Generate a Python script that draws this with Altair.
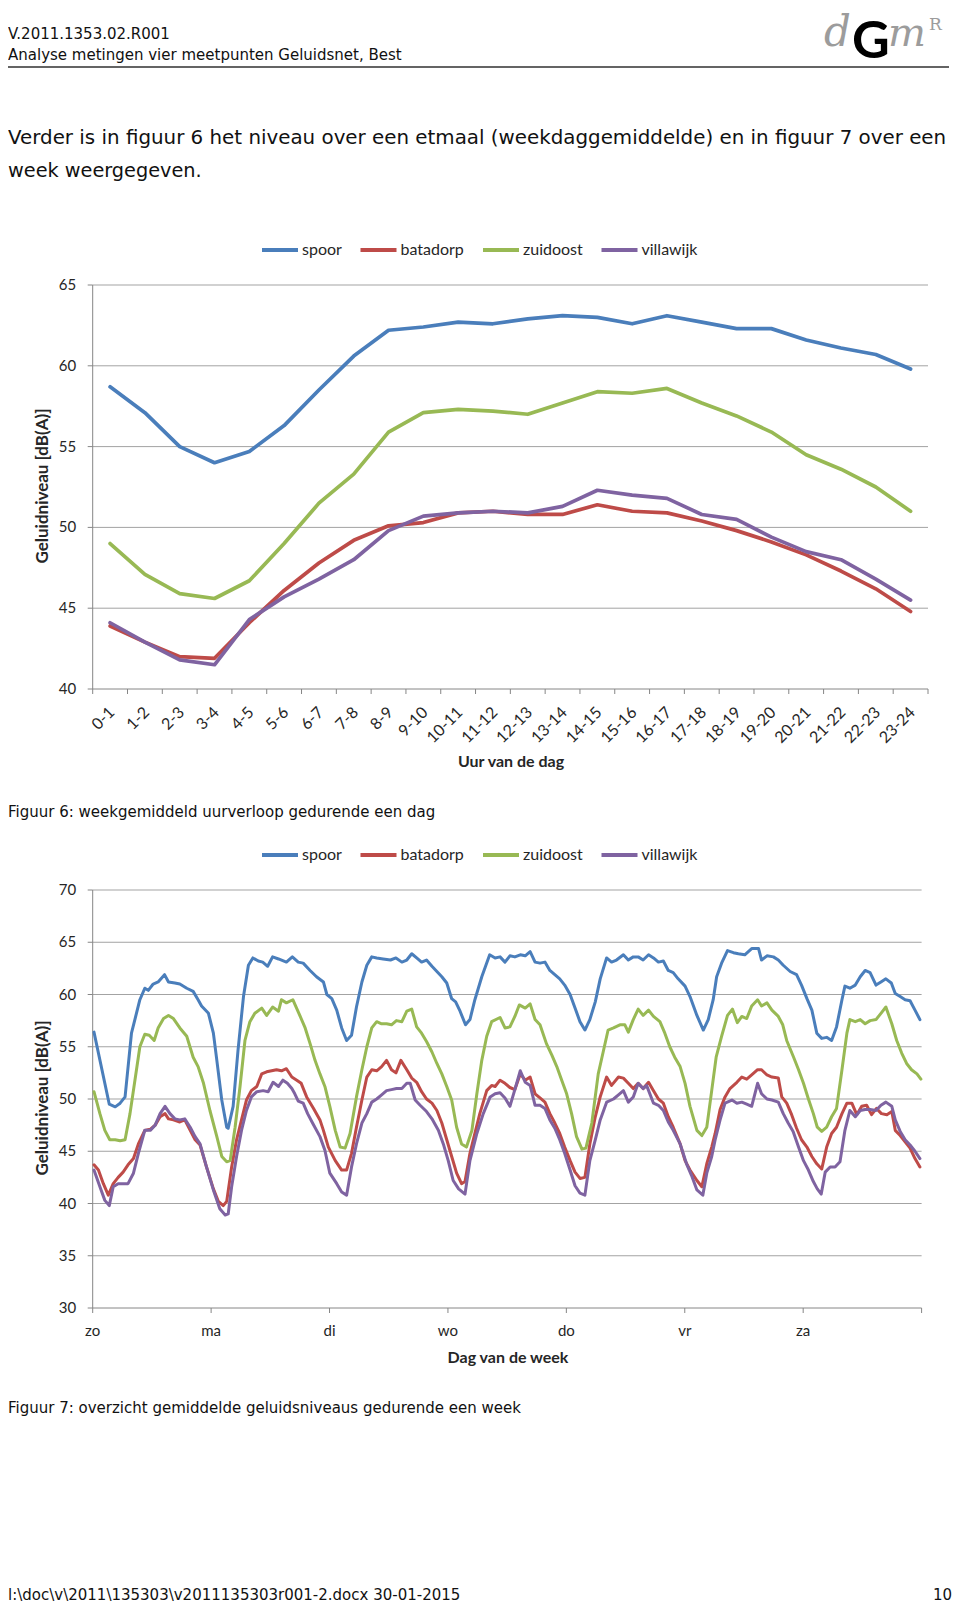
import altair as alt
import pandas as pd

SERIES = ["spoor", "batadorp", "zuidoost", "villawijk"]
COLORS = ["#4a7ebb", "#be4b48", "#98b954", "#7f63a1"]

HOUR_LABELS = ["0-1", "1-2", "2-3", "3-4", "4-5", "5-6", "6-7", "7-8", "8-9", "9-10",
               "10-11", "11-12", "12-13", "13-14", "14-15", "15-16", "16-17", "17-18",
               "18-19", "19-20", "20-21", "21-22", "22-23", "23-24"]
DAY_LABELS = ["zo", "ma", "di", "wo", "do", "vr", "za"]

DAY_TICKS = [40, 45, 50, 55, 60, 65]
DAY_GRID = [45, 50, 55, 60, 65]
WEEK_TICKS = [30, 35, 40, 45, 50, 55, 60, 65, 70]
WEEK_GRID = [35, 40, 45, 50, 55, 60, 65, 70]

# Figuur 6 : weekgemiddeld uurverloop (dB(A)) per uur 0-1 ... 23-24
DAY_SPOOR = [58.7, 57.1, 55.0, 54.0, 54.7, 56.3, 58.5, 60.6, 62.2, 62.4, 62.7, 62.6,
             62.9, 63.1, 63.0, 62.6, 63.1, 62.7, 62.3, 62.3, 61.6, 61.1, 60.7, 59.8]
DAY_BATADORP = [43.9, 42.9, 42.0, 41.9, 44.1, 46.1, 47.8, 49.2, 50.1, 50.3, 50.9, 51.0,
                50.8, 50.8, 51.4, 51.0, 50.9, 50.4, 49.8, 49.1, 48.3, 47.3, 46.2, 44.8]
DAY_ZUIDOOST = [49.0, 47.1, 45.9, 45.6, 46.7, 49.0, 51.5, 53.3, 55.9, 57.1, 57.3, 57.2,
                57.0, 57.7, 58.4, 58.3, 58.6, 57.7, 56.9, 55.9, 54.5, 53.6, 52.5, 51.0]
DAY_VILLAWIJK = [44.1, 42.9, 41.8, 41.5, 44.3, 45.7, 46.8, 48.0, 49.8, 50.7, 50.9, 51.0,
                 50.9, 51.3, 52.3, 52.0, 51.8, 50.8, 50.5, 49.4, 48.5, 48.0, 46.8, 45.5]

# Figuur 7 : [uur sinds zondag 0:00, dB(A)]
WEEK_SPOOR = [[0, 56.4], [3.1, 49.5], [4.3, 49.25], [5.3, 49.6], [6.3, 50.2], [7.6, 56.3], [9.3, 59.5], [10.3, 60.6],
    [11, 60.4], [12, 61.0], [13, 61.2], [14.3, 61.9], [15.1, 61.2], [16.4, 61.1], [17.4, 61.0], [18.8, 60.6],
    [20.1, 60.3], [21.1, 59.5], [21.8, 58.9], [23.2, 58.2], [24.2, 56.3], [24.9, 53.7], [25.9, 49.9], [26.9, 47.3],
    [27.2, 47.2], [28.2, 49.3], [29.2, 54.7], [30.3, 59.8], [31.3, 62.8], [32.2, 63.5], [33.3, 63.2], [34.2, 63.1],
    [35.2, 62.7], [36.2, 63.6], [37.4, 63.4], [39, 63.1], [40.2, 63.6], [41.4, 63.1], [42.4, 63.0], [43.8, 62.3],
    [45.1, 61.7], [46.5, 61.2], [47.2, 60.0], [48.2, 59.6], [49.2, 58.5], [50.2, 56.8], [51.2, 55.6], [52.2, 56.1],
    [53.2, 58.8], [54.3, 61.2], [55.3, 62.8], [56.3, 63.6], [57.3, 63.5], [58.6, 63.4], [60.1, 63.3], [61.2, 63.5],
    [62.4, 63.1], [63.4, 63.3], [64.4, 63.9], [65.4, 63.5], [66.4, 63.1], [67.4, 63.3], [68.5, 62.7], [69.5, 62.2],
    [70.5, 61.7], [71.5, 61.1], [72.5, 59.6], [73.3, 59.3], [74.2, 58.4], [75.3, 57.1], [76.2, 57.6], [77.2, 59.5],
    [78.6, 61.7], [80.2, 63.8], [81.3, 63.5], [82.3, 63.6], [83.3, 63.1], [84.3, 63.7], [85.3, 63.6], [86.4, 63.8],
    [87.4, 63.7], [88.4, 64.1], [89.4, 63.1], [90.4, 63.0], [91.4, 63.1], [92.4, 62.3], [93.4, 61.9], [94.4, 61.5],
    [95.4, 60.9], [96.5, 60.0], [97.5, 58.7], [98.5, 57.4], [99.5, 56.6], [100.5, 57.6], [101.6, 59.3], [102.6, 61.5],
    [103.9, 63.5], [104.9, 63.1], [105.9, 63.3], [107.3, 63.8], [108.3, 63.3], [109.3, 63.6], [110.3, 63.6], [111.3, 63.3],
    [112.4, 63.8], [113.4, 63.5], [114.4, 63.1], [115.4, 63.2], [116.4, 62.3], [117.4, 62.1], [118.4, 61.5], [119.8, 60.8],
    [120.8, 59.8], [122.2, 58.0], [123.5, 56.6], [124.5, 57.6], [125.5, 59.5], [126.2, 61.7], [127.2, 63.0], [128.4, 64.2],
    [129.6, 64.0], [130.6, 63.9], [131.9, 63.8], [133.3, 64.4], [134.7, 64.4], [135.3, 63.3], [136.4, 63.7], [137.7, 63.6],
    [138.7, 63.3], [139.7, 62.8], [141.1, 62.2], [142.4, 61.9], [143.4, 60.9], [144.5, 59.6], [145.5, 58.5], [146.5, 56.3],
    [147.5, 55.8], [148.5, 55.9], [149.5, 55.6], [150.5, 56.9], [151.6, 59.5], [152.2, 60.8], [153.2, 60.6], [154.3, 60.9],
    [155.3, 61.7], [156.3, 62.3], [157.3, 62.1], [158.5, 60.9], [159.5, 61.2], [160.5, 61.5], [161.6, 61.1], [162.4, 60.1],
    [163.4, 59.8], [164.4, 59.5], [165.4, 59.4], [166.4, 58.5], [167.4, 57.6]]

WEEK_BATADORP = [[0, 43.7], [0.9, 43.2], [1.9, 41.9], [2.9, 40.8], [3.9, 41.9], [4.9, 42.5], [5.9, 43.0], [6.9, 43.7],
    [8, 44.3], [9, 45.7], [10.3, 47.0], [11.4, 47.1], [12.4, 47.5], [13.4, 48.3], [14.4, 48.6], [15.1, 48.1],
    [16.1, 48.0], [17.4, 47.8], [18.4, 48.0], [19.5, 47.0], [20.5, 46.1], [21.5, 45.6], [22.8, 43.5], [24.2, 41.4],
    [25.2, 40.2], [26.2, 39.8], [26.9, 40.2], [27.9, 43.5], [28.9, 46.1], [29.9, 48.0], [30.9, 49.9], [31.9, 50.8],
    [33, 51.2], [34, 52.4], [35, 52.6], [36, 52.7], [37, 52.8], [38, 52.7], [39, 52.9], [40.1, 52.1],
    [41.1, 51.8], [42, 51.5], [43.1, 50.2], [44.5, 49.1], [45.8, 48.0], [46.5, 47.0], [47.5, 45.4], [48.9, 44.1],
    [50.2, 43.2], [51.2, 43.2], [52.2, 44.8], [53.2, 47.3], [54.3, 49.9], [55.3, 52.1], [56.3, 52.8], [57.3, 52.7],
    [58.3, 53.1], [59.3, 53.7], [60.3, 52.8], [61.2, 52.5], [62.2, 53.7], [63.4, 52.8], [64.4, 52.0], [65.4, 51.6],
    [66.4, 50.7], [67.4, 50.0], [68.5, 49.6], [69.5, 48.9], [70.5, 47.7], [71.5, 46.1], [72.5, 44.5], [73.5, 42.9],
    [74.5, 41.9], [75.2, 42.1], [76.2, 44.8], [77.2, 46.7], [78.2, 48.6], [79.6, 50.8], [80.6, 51.3], [81.3, 51.2],
    [82.3, 51.8], [83.3, 51.5], [84.3, 51.1], [85.3, 50.9], [86.4, 52.4], [87.4, 51.8], [88.4, 52.1], [89.4, 50.5],
    [90.4, 50.1], [91.4, 49.7], [92.4, 48.6], [93.4, 47.7], [94.4, 46.7], [95.4, 45.4], [96.5, 44.1], [97.5, 43.0],
    [98.5, 42.4], [99.5, 42.5], [100.5, 45.7], [101.6, 48.3], [102.6, 50.2], [103.9, 52.1], [104.9, 51.3], [106.3, 52.1],
    [107.3, 52.0], [108.3, 51.5], [109.3, 51.0], [110.3, 51.5], [111.3, 51.0], [112.4, 51.6], [113.4, 50.8], [114.4, 50.0],
    [115.4, 49.6], [116.4, 48.3], [117.4, 47.3], [118.8, 45.7], [119.8, 44.1], [120.8, 43.2], [122.2, 42.2], [123.2, 41.6],
    [124.2, 43.8], [125.2, 45.4], [125.9, 46.7], [126.9, 49.0], [127.9, 50.2], [128.9, 51.0], [130.3, 51.6], [131.3, 52.1],
    [132.3, 51.9], [133.3, 52.3], [134.5, 52.8], [135.3, 52.8], [136.4, 52.3], [137.4, 52.1], [138.7, 52.0], [139.4, 50.2],
    [140.4, 49.6], [141.4, 48.5], [142.4, 47.2], [143.4, 46.1], [144.5, 45.4], [145.5, 44.5], [146.5, 43.8], [147.5, 43.3],
    [148.5, 45.4], [149.5, 46.7], [150.5, 47.3], [151.6, 48.6], [152.6, 49.6], [153.6, 49.6], [154.6, 48.5], [155.6, 49.3],
    [156.6, 49.4], [157.6, 48.5], [158.6, 49.1], [159.6, 48.6], [160.7, 48.5], [161.7, 48.8], [162.4, 47.0], [163.4, 46.5],
    [164.4, 45.9], [165.4, 45.3], [166.4, 44.3], [167.4, 43.5]]

WEEK_ZUIDOOST = [[0, 50.7], [1.2, 48.6], [2.2, 47.0], [3.2, 46.1], [4.3, 46.1], [5.3, 46.0], [6.3, 46.1], [7.3, 48.6],
    [8.3, 51.8], [9.3, 55.0], [10.3, 56.2], [11.2, 56.1], [12.2, 55.6], [13, 56.8], [14.1, 57.7], [15.1, 58.0],
    [16.1, 57.7], [17.4, 56.8], [18.8, 56.0], [20.1, 54.0], [21.1, 53.1], [22.2, 51.5], [23.5, 48.9], [24.9, 46.4],
    [25.9, 44.5], [26.9, 44.0], [27.6, 44.1], [28.6, 47.3], [29.6, 51.2], [30.6, 55.6], [31.6, 57.4], [32.6, 58.2],
    [34, 58.7], [35, 58.0], [36.2, 58.8], [37.4, 58.4], [38, 59.5], [39, 59.2], [40.3, 59.5], [41.8, 57.9],
    [42.8, 56.8], [43.8, 55.3], [44.8, 53.7], [45.8, 52.4], [46.8, 51.2], [47.8, 49.3], [48.9, 47.0], [49.9, 45.4],
    [50.9, 45.3], [51.9, 46.7], [53.2, 50.2], [54.3, 52.8], [55.3, 55.0], [56.3, 56.8], [57.3, 57.4], [58.3, 57.2],
    [59.3, 57.2], [60.3, 57.1], [61.3, 57.5], [62.4, 57.4], [63.4, 58.4], [64.4, 58.6], [65.4, 56.9], [66.4, 56.3],
    [67.4, 55.5], [68.5, 54.5], [69.5, 53.4], [70.5, 52.4], [71.5, 51.2], [72.5, 49.9], [73.5, 47.3], [74.5, 45.7],
    [75.5, 45.4], [76.6, 47.0], [77.6, 50.5], [78.6, 53.7], [79.6, 56.0], [80.6, 57.4], [82.3, 57.8], [83.3, 56.8],
    [84.3, 56.9], [85.3, 57.9], [86.2, 59.0], [87.4, 58.7], [88.4, 59.1], [89.4, 57.6], [90.4, 57.1], [91.7, 55.3],
    [92.8, 54.2], [93.8, 53.1], [94.8, 51.8], [95.8, 50.5], [96.8, 48.6], [97.8, 46.4], [98.9, 45.2], [99.7, 45.3],
    [100.9, 47.7], [102.2, 52.4], [103.2, 54.5], [104.2, 56.6], [105.3, 56.8], [106.6, 57.1], [107.6, 57.1], [108.3, 56.4],
    [109.3, 57.6], [110.3, 58.6], [111.3, 58.0], [112.4, 58.5], [113.4, 57.9], [114.7, 57.4], [115.7, 56.3], [116.7, 55.0],
    [117.7, 54.0], [118.8, 53.1], [119.8, 51.5], [120.8, 49.3], [122.2, 47.0], [123.2, 46.5], [124.2, 47.3], [125.2, 50.8],
    [126.1, 54.0], [127.2, 56.0], [128.4, 58.0], [129.4, 58.6], [130.4, 57.3], [131.3, 57.9], [132.3, 57.7], [133.3, 58.9],
    [134.5, 59.5], [135.3, 58.9], [136.4, 59.2], [137.4, 58.5], [138.7, 57.9], [139.6, 57.1], [140.4, 55.6], [141.8, 54.0],
    [142.8, 52.8], [143.8, 51.5], [144.8, 50.0], [145.8, 48.6], [146.6, 47.3], [147.5, 46.9], [148.5, 47.3], [149.5, 48.3],
    [150.5, 49.1], [151.6, 52.8], [152.6, 56.3], [153.2, 57.6], [154.3, 57.4], [155.3, 57.6], [156.3, 57.2], [157.3, 57.5],
    [158.5, 57.6], [159.5, 58.2], [160.5, 58.8], [161.7, 57.2], [162.7, 55.6], [163.7, 54.4], [164.7, 53.4], [165.7, 52.8],
    [166.8, 52.4], [167.6, 51.9]]

WEEK_VILLAWIJK = [[0, 43.2], [1.2, 41.6], [2.2, 40.3], [3.1, 39.8], [3.9, 41.6], [4.9, 41.9], [5.9, 41.9], [6.9, 41.9],
    [8, 42.9], [9, 44.8], [10.3, 47.0], [11.4, 47.0], [12.4, 47.5], [13.4, 48.6], [14.4, 49.3], [15.4, 48.6],
    [16.4, 48.1], [17.4, 48.0], [18.4, 48.1], [19.5, 47.3], [20.5, 46.4], [21.5, 45.7], [22.8, 43.5], [24.2, 41.3],
    [25.5, 39.5], [26.6, 38.9], [27.2, 39.0], [27.9, 41.6], [28.9, 44.5], [29.9, 47.0], [30.9, 48.9], [31.9, 50.2],
    [33, 50.7], [34.3, 50.8], [35.3, 50.7], [36.3, 51.6], [37.4, 51.2], [38.3, 51.8], [39.2, 51.5], [40.1, 51.0],
    [40.7, 50.5], [41.4, 49.8], [42.4, 49.6], [43.3, 48.6], [44.3, 47.7], [45.8, 46.4], [46.8, 45.1], [47.8, 42.9],
    [49.2, 41.9], [50.2, 41.1], [51.2, 40.8], [52.2, 43.5], [53.2, 45.7], [54.3, 47.7], [55.3, 48.6], [56.3, 49.7],
    [57.3, 50.0], [58.3, 50.4], [59.3, 50.8], [60.3, 50.9], [61.3, 51.0], [62.4, 51.0], [63.4, 51.5], [64.1, 51.5],
    [65.1, 49.9], [66.1, 49.4], [67.4, 48.8], [68.5, 48.1], [69.8, 47.0], [70.8, 45.7], [71.8, 44.1], [72.8, 42.2],
    [73.9, 41.4], [75.2, 40.9], [76.2, 44.1], [77.6, 46.7], [78.9, 48.6], [80.3, 50.2], [81.3, 50.5], [82.3, 50.6],
    [83.3, 50.1], [84.3, 49.3], [85.3, 50.9], [86.4, 52.7], [87.4, 51.6], [88.4, 51.3], [89.4, 49.4], [90.4, 49.4],
    [91.4, 49.1], [92.4, 48.0], [93.4, 47.2], [94.4, 46.1], [95.4, 44.8], [96.5, 43.2], [97.5, 41.7], [98.5, 41.0],
    [99.5, 40.8], [100.5, 44.1], [101.6, 46.1], [102.6, 48.0], [103.9, 49.7], [105.3, 50.0], [106.3, 50.4], [107.3, 50.8],
    [108.3, 49.7], [109.3, 50.2], [110.3, 51.5], [111.3, 51.0], [112.0, 51.3], [113.4, 49.6], [114.4, 49.4], [115.4, 48.9],
    [116.4, 47.8], [117.4, 47.0], [118.8, 45.7], [120.1, 43.8], [121.1, 42.7], [122.2, 41.3], [123.4, 40.8], [124.2, 42.9],
    [125.2, 44.5], [125.9, 46.1], [126.9, 48.0], [127.9, 49.6], [129.3, 49.9], [130.3, 49.6], [131.3, 49.7], [132.3, 49.5],
    [133.3, 49.3], [134.5, 51.5], [135.3, 50.5], [136.4, 50.0], [137.4, 49.9], [138.7, 49.7], [139.7, 48.6], [140.7, 47.7],
    [141.7, 46.9], [142.8, 45.4], [143.8, 44.1], [144.8, 43.2], [145.8, 42.1], [146.6, 41.4], [147.4, 40.9], [148.2, 43.0],
    [149.2, 43.5], [150.2, 43.5], [151.2, 44.0], [152.2, 47.0], [153.2, 48.9], [154.3, 48.3], [155.3, 48.9], [156.3, 49.0],
    [157.3, 49.0], [158.5, 48.9], [159.5, 49.4], [160.5, 49.7], [161.7, 49.3], [162.4, 48.0], [163.4, 46.9], [164.4, 46.1],
    [165.4, 45.6], [166.4, 45.0], [167.4, 44.3]]

# ---------------------------------------------------------------- layout
W, H = 944, 1597
X1 = [84.7, 920.0]     # pixel range of the day chart
Y1 = [681.0, 277.0]
X2 = [84.7, 913.6]     # pixel range of the week chart
Y2 = [1300.0, 882.0]
LABEL_C = "#262626"
AX = "#868686"
GRID = "#a3a3a3"
CHART_FONT = "Lato"
DOC_FONT = "DejaVu Sans"

day_rows = []
for name, vals in zip(SERIES, [DAY_SPOOR, DAY_BATADORP, DAY_ZUIDOOST, DAY_VILLAWIJK]):
    for i, v in enumerate(vals):
        day_rows.append({"series": name, "pos": i + 0.5, "val": v})
df_day = pd.DataFrame(day_rows)

week_rows = []
for name, pts in zip(SERIES, [WEEK_SPOOR, WEEK_BATADORP, WEEK_ZUIDOOST, WEEK_VILLAWIJK]):
    for h, v in pts:
        week_rows.append({"series": name, "t": h + 0.26, "val": v})
df_week = pd.DataFrame(week_rows)


def legend(y):
    return alt.Legend(orient="none", legendX=252, legendY=y, direction="horizontal",
                      symbolType="stroke", symbolStrokeWidth=4, symbolSize=1296,
                      labelFont=CHART_FONT, labelFontSize=16, labelColor=LABEL_C,
                      labelOffset=2, columnPadding=10.5, padding=0)


def panel(df, xfield, xdom, xrng, ydom, yrng, grid_vals, ytick_vals, xtick_vals, xlab_df,
          xlab_mark, stroke_w, legend_y):
    sx = alt.Scale(domain=xdom, range=xrng, nice=False, zero=False)
    sy = alt.Scale(domain=ydom, range=yrng, nice=False, zero=False)
    x0 = alt.XDatum(xdom[0], scale=sx, axis=None)
    y0 = alt.YDatum(ydom[0], scale=sy, axis=None)
    gdf = pd.DataFrame({"g": grid_vals})
    grid = alt.Chart(gdf).mark_rule(color=GRID, strokeWidth=1).encode(
        x=x0, x2=alt.X2Datum(xdom[1]), y=alt.Y("g:Q", scale=sy, axis=None))
    yline = alt.Chart(gdf.head(1)).mark_rule(color=AX, strokeWidth=1).encode(
        x=x0, y=y0, y2=alt.Y2Datum(ydom[1]))
    xline = alt.Chart(gdf.head(1)).mark_rule(color=AX, strokeWidth=1).encode(
        x=x0, x2=alt.X2Datum(xdom[1]), y=y0)
    tdf = pd.DataFrame({"v": ytick_vals})
    yticks = alt.Chart(tdf).mark_rule(color=AX, strokeWidth=1, xOffset=-5).encode(
        x=x0, x2=alt.X2Datum(xdom[0]), y=alt.Y("v:Q", scale=sy, axis=None))
    ylabels = alt.Chart(tdf).mark_text(font=CHART_FONT, fontSize=15, color=LABEL_C, align="right",
                                       baseline="middle", xOffset=-16.5).encode(
        x=x0, y=alt.Y("v:Q", scale=sy, axis=None), text="v:Q")
    xdf = pd.DataFrame({"b": xtick_vals})
    xticks = alt.Chart(xdf).mark_rule(color=AX, strokeWidth=1, y2Offset=5).encode(
        x=alt.X("b:Q", scale=sx, axis=None), y=y0, y2=alt.Y2Datum(ydom[0]))
    xlabels = alt.Chart(xlab_df).mark_text(font=CHART_FONT, color=LABEL_C, **xlab_mark).encode(
        x=alt.X("p:Q", scale=sx, axis=None), y=y0, text="lab:N")
    lines = alt.Chart(df).mark_line(strokeWidth=stroke_w, strokeJoin="round", strokeCap="round").encode(
        x=alt.X(f"{xfield}:Q", scale=sx, axis=None),
        y=alt.Y("val:Q", scale=sy, axis=None),
        color=alt.Color("series:N", scale=alt.Scale(domain=SERIES, range=COLORS), sort=SERIES,
                        title=None, legend=legend(legend_y)),
    )
    return alt.layer(grid, yline, xline, yticks, ylabels, xticks, xlabels, lines)


hour_lab = pd.DataFrame({"p": [i + 0.5 for i in range(len(HOUR_LABELS))], "lab": HOUR_LABELS})
day_lab = pd.DataFrame({"p": [24 * i for i in range(len(DAY_LABELS))], "lab": DAY_LABELS})

chart1 = panel(df_day, "pos", [0, 24], X1, [40, 65], Y1, DAY_GRID, DAY_TICKS, list(range(25)),
               hour_lab, dict(fontSize=16, angle=315, align="right", baseline="middle",
                              xOffset=2, yOffset=21),
               3.7, 222)
chart2 = panel(df_week, "t", [0, 168], X2, [30, 70], Y2, WEEK_GRID, WEEK_TICKS,
               [0, 24, 48, 72, 96, 120, 144, 168],
               day_lab, dict(fontSize=15, align="center", baseline="middle", yOffset=23),
               3.0, 827)


# ---- page texts
def txt(s, x, y, size, font=DOC_FONT, weight="normal", style="normal", color="#111111",
        align="left", baseline="alphabetic", angle=0):
    mk = dict(font=font, fontSize=size, fontWeight=weight, fontStyle=style, color=color,
              align=align, baseline=baseline)
    if angle:
        mk["angle"] = angle
    return alt.Chart(pd.DataFrame({"t": [s]})).mark_text(**mk).encode(
        text="t:N", x=alt.value(x), y=alt.value(y))


header_rule = alt.Chart(pd.DataFrame({"a": [0]})).mark_rule(color="#303030", strokeWidth=1.5).encode(
    x=alt.value(0), x2=alt.value(941), y=alt.value(59))

texts = [
    txt("V.2011.1353.02.R001", 0, 31, 15),
    txt("Analyse metingen vier meetpunten Geluidsnet, Best", 0, 51.5, 15),
    header_rule,
    txt("d", 816, 38, 42, font="DejaVu Serif", style="italic", color="#9c9c9c"),
    txt("G", 844, 50, 52, font="Lato", weight="bold", color="#000000"),
    txt("m", 880, 38, 40, font="DejaVu Serif", style="italic", color="#9c9c9c"),
    txt("R", 921, 22, 17, font="DejaVu Serif", color="#9c9c9c"),
    txt("Verder is in figuur 6 het niveau over een etmaal (weekdaggemiddelde) en in figuur 7 over een",
        0, 135.5, 19.85),
    txt("week weergegeven.", 0, 168.5, 19.3),
    txt("Geluidniveau [dB(A)]", 35, 478, 17, font=CHART_FONT, weight="bold", color=LABEL_C,
        align="center", baseline="middle", angle=270),
    txt("Uur van de dag", 503, 754, 16, font=CHART_FONT, weight="bold", color=LABEL_C,
        align="center", baseline="middle"),
    txt("Figuur 6: weekgemiddeld uurverloop gedurende een dag", 0, 809, 15),
    txt("Geluidniveau [dB(A)]", 35, 1090, 17, font=CHART_FONT, weight="bold", color=LABEL_C,
        align="center", baseline="middle", angle=270),
    txt("Dag van de week", 500, 1350, 16, font=CHART_FONT, weight="bold", color=LABEL_C,
        align="center", baseline="middle"),
    txt("Figuur 7: overzicht gemiddelde geluidsniveaus gedurende een week", 0, 1405, 15),
    txt(r"l:\doc\v\2011\135303\v2011135303r001-2.docx 30-01-2015", 0, 1592, 15),
    txt("10", 944, 1592, 15, align="right"),
]

chart = (
    alt.layer(*texts, chart1, chart2)
    .resolve_scale(x="independent", y="independent", color="independent")
    .resolve_legend(color="independent")
    .properties(width=W, height=H, autosize=alt.AutoSizeParams(type="none"), padding=0)
    .configure_view(stroke=None)
)

chart.save("out.html", embed_options={"renderer": "svg", "actions": False})
